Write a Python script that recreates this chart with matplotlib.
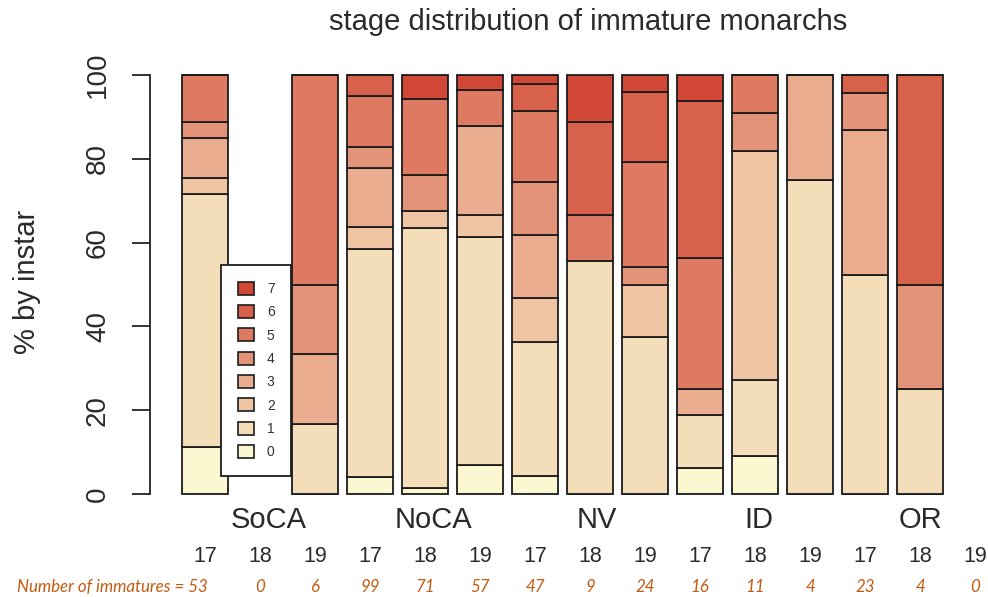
import numpy as np
import matplotlib
matplotlib.use('Agg')
import matplotlib.pyplot as plt
from matplotlib.patches import Patch

plt.rcParams['font.family'] = ['Liberation Sans', 'DejaVu Sans']

# Data: counts per instar stage (0..7) for each region / year
regions = ['SoCA', 'NoCA', 'NV', 'ID', 'OR']
years = ['17', '18', '19']
stages = ['0', '1', '2', '3', '4', '5', '6', '7']

counts = [
    [6, 32, 2, 5, 2, 6, 0, 0],    # SoCA 17
    [0, 0, 0, 0, 0, 0, 0, 0],     # SoCA 18
    [0, 1, 0, 1, 1, 3, 0, 0],     # SoCA 19
    [4, 54, 5, 14, 5, 12, 5, 0],  # NoCA 17
    [1, 44, 3, 0, 6, 13, 0, 4],   # NoCA 18
    [4, 31, 3, 12, 0, 5, 0, 2],   # NoCA 19
    [2, 15, 5, 7, 6, 8, 3, 1],    # NV 17
    [0, 5, 0, 0, 0, 1, 2, 1],     # NV 18
    [0, 9, 3, 0, 1, 6, 4, 1],     # NV 19
    [1, 2, 0, 1, 0, 5, 6, 1],     # ID 17
    [1, 2, 6, 0, 1, 1, 0, 0],     # ID 18
    [0, 3, 0, 1, 0, 0, 0, 0],     # ID 19
    [0, 12, 0, 8, 2, 0, 1, 0],    # OR 17
    [0, 1, 0, 0, 1, 0, 2, 0],     # OR 18
    [0, 0, 0, 0, 0, 0, 0, 0],     # OR 19
]

stage_colors = ['#FBF7D0', '#F4DEBA', '#EFC5A4', '#E9AC8E',
                '#E39378', '#DE7A62', '#D8614C', '#D24836']

counts = np.array(counts, dtype=float)
totals = counts.sum(axis=1)
pct = np.zeros_like(counts)
has = totals > 0
pct[has] = counts[has] / totals[has, None] * 100

x = np.arange(len(counts))
txt = '#2a2a2a'

fig = plt.figure(figsize=(9.88, 5.97), dpi=100)
ax = fig.add_axes([150 / 988, 103 / 597, 838 / 988, 419 / 597])

bottom = np.zeros(len(counts))
for s in range(len(stages)):
    ax.bar(x[has], pct[has, s], bottom=bottom[has], width=0.83,
           color=stage_colors[s], edgecolor='#1c1c1c', linewidth=1.3,
           clip_on=False)
    bottom += pct[:, s]

ax.set_xlim(-1.0, 14.236)
ax.set_ylim(0, 100)

for sp in ['top', 'right', 'bottom']:
    ax.spines[sp].set_visible(False)
ax.spines['left'].set_bounds(0, 100)
ax.spines['left'].set_linewidth(1.3)
ax.spines['left'].set_color('#222222')
ax.set_xticks([])
ax.set_yticks([0, 20, 40, 60, 80, 100])
ax.tick_params(axis='y', length=13, width=1.3, color='#222222', pad=15,
               labelsize=20, labelcolor=txt, labelrotation=90)
for lab in ax.get_yticklabels():
    lab.set_va('center')

fig.text(27 / 988, 1 - 282 / 597, '% by instar', rotation=90, fontsize=21,
         color=txt, ha='center', va='center')
fig.text(588 / 988, 1 - 22 / 597, 'stage distribution of immature monarchs',
         fontsize=21, color=txt, ha='center', va='center')

# Region and year labels
group_x = [1.15, 4.15, 7.13, 10.07, 13.0]
for gx, name in zip(group_x, regions):
    ax.text(gx, -6.2, name, fontsize=21, color=txt, ha='center',
            va='center', clip_on=False)
year_labels = years * len(regions)
for xi, yl in zip(x, year_labels):
    ax.text(xi, -15.0, yl, fontsize=15.5, color=txt, ha='center',
            va='center', clip_on=False)

orange = '#C55A11'
ax.text(0.05, -22.3, 'Number of immatures = %d' % totals[0], fontsize=12.2,
        family=['Lato', 'DejaVu Sans'], style='italic', color=orange,
        ha='right', va='center', clip_on=False)
for xi, n in zip(x[1:], totals[1:]):
    ax.text(xi, -22.3, '%d' % n, fontsize=12.2, family=['Lato', 'DejaVu Sans'],
            style='italic', color=orange, ha='center', va='center',
            clip_on=False)

handles = [Patch(facecolor=stage_colors[s], edgecolor='#1c1c1c', linewidth=1.2)
           for s in range(len(stages))][::-1]
leg = fig.legend(handles, stages[::-1], loc='upper left',
                 bbox_to_anchor=(221 / 988, 1 - 265 / 597), borderaxespad=0,
                 fontsize=10, handlelength=1.15, handleheight=1.05,
                 handletextpad=0.95, labelspacing=0.66, borderpad=1.2,
                 fancybox=False, framealpha=1, edgecolor='#1c1c1c')
leg.get_frame().set_linewidth(1.3)
for t in leg.get_texts():
    t.set_color('#333333')

fig.savefig('out.png', dpi=100)
